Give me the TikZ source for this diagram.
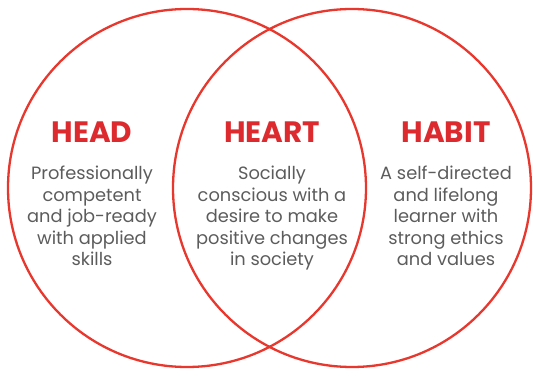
\documentclass[tikz,border=0pt]{standalone}
\usepackage{fontspec}
\setmainfont{Poppins}
\usetikzlibrary{positioning}
\definecolor{ringred}{HTML}{E8372D}
\definecolor{titlered}{HTML}{DD2A2F}
\definecolor{bodygrey}{HTML}{5C5C5C}
\tikzset{ring/.style={circle,draw=ringred,line width=2.3pt,minimum size=358pt,inner sep=0pt},
	title node/.style={text=titlered,font=\bfseries\fontsize{29.5}{33}\selectfont,inner sep=0pt},
	body node/.style={text=bodygrey,align=center,font=\fontsize{17.8}{21.5}\selectfont,inner sep=0pt},
}

\begin{document}
\begin{tikzpicture}[x=1pt,y=1pt,node distance = 23.5pt]
	\useasboundingbox (0,0) rectangle (533,375);
	\node[ring] (left) at (187,187) {};
	\node[ring] (right) at (352,187) {};
	
	\node[title node] (head) at (92,243) {HEAD};
	\node[title node] (heart) at (272,243) {HEART};
	\node[title node] (habit) at (446,243) {HABIT};
	
	\node[body node] (headtxt) [below = of head]
	{Professionally\\competent\\and job-ready\\with applied\\skills};
	\node[body node] (hearttxt) [below = of heart]
	{Socially\\conscious with a\\desire to make\\positive changes\\in society};
	\node[body node] (habittxt) [below = of habit]
	{A self-directed\\and lifelong\\learner with\\strong ethics\\and values};
\end{tikzpicture}
\end{document}
